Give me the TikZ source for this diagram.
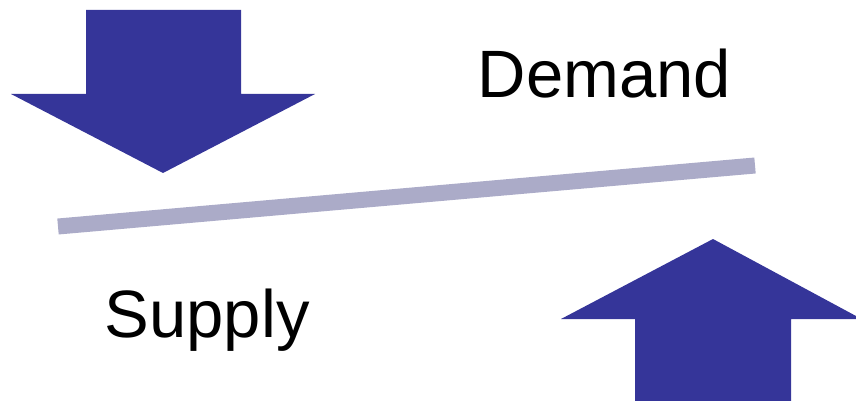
\documentclass[tikz,border=0pt]{standalone}
\usepackage{fontspec}
\setmainfont{Liberation Sans}
\definecolor{arrowblue}{RGB}{53,53,153}
\definecolor{barlilac}{RGB}{171,171,200}
\begin{document}
\begin{tikzpicture}[x=1pt,y=-1pt,
  blockarrow/.style={fill=arrowblue,draw=none},
  balancebar/.style={draw=barlilac,line width=16pt,line cap=butt},
  caption/.style={font=\fontsize{67}{80}\selectfont,inner sep=0pt,anchor=base west}]
  \useasboundingbox (0,0) rectangle (856,401);
  % downward block arrow (top left)
  \fill[blockarrow] (86,10) -- (241,10) -- (241,94) -- (315,94) -- (163,173)
    -- (11,94) -- (86,94) -- cycle;
  % upward block arrow (bottom right)
  \fill[blockarrow] (635,401) -- (791,401) -- (791,319) -- (856,319) -- (856,316)
    -- (713,239) -- (561,319) -- (635,319) -- cycle;
  % tilted balance bar
  \coordinate (barL) at (58,226.5);
  \coordinate (barR) at (755,165.5);
  \draw[balancebar] (barL) -- (barR);
  % labels
  \node[caption] (demand) at (477.5,97.5) {Demand};
  \node[caption] (supply) at (104.5,337) {Supply};
\end{tikzpicture}
\end{document}
